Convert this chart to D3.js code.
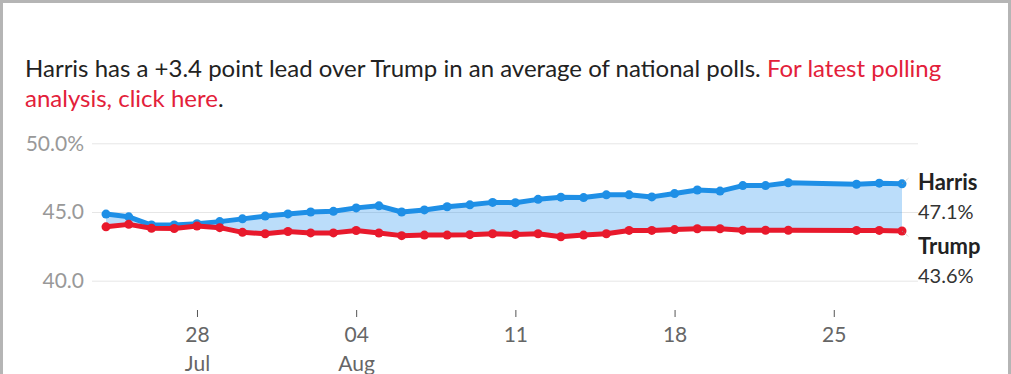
<!DOCTYPE html>
<html>
<head>
<meta charset="utf-8">
<script src="https://cdn.jsdelivr.net/npm/d3@7"></script>
<style>
  body { margin: 0; background: #fff; }
  svg { display: block; font-family: Lato, "Open Sans", sans-serif; }
</style>
</head>
<body>
<div id="chart"></div>
<script>
// poll averages
var dates = ["2024-07-24", "2024-07-25", "2024-07-26", "2024-07-27", "2024-07-28", "2024-07-29",
  "2024-07-30", "2024-07-31", "2024-08-01", "2024-08-02", "2024-08-03", "2024-08-04",
  "2024-08-05", "2024-08-06", "2024-08-07", "2024-08-08", "2024-08-09", "2024-08-10",
  "2024-08-11", "2024-08-12", "2024-08-13", "2024-08-14", "2024-08-15", "2024-08-16",
  "2024-08-17", "2024-08-18", "2024-08-19", "2024-08-20", "2024-08-21", "2024-08-22",
  "2024-08-23", "2024-08-26", "2024-08-27", "2024-08-28"];

var harris = [44.85, 44.65, 44.05, 44.05, 44.15, 44.3, 44.5, 44.7, 44.86, 45.0, 45.05, 45.3,
  45.45, 45.0, 45.15, 45.38, 45.52, 45.7, 45.68, 45.92, 46.08, 46.05, 46.25, 46.25,
  46.1, 46.34, 46.6, 46.52, 46.92, 46.92, 47.13, 47.02, 47.1, 47.05];

var trump = [43.92, 44.1, 43.82, 43.8, 43.98, 43.86, 43.52, 43.42, 43.58, 43.48, 43.48, 43.65,
  43.47, 43.28, 43.32, 43.32, 43.35, 43.42, 43.37, 43.42, 43.2, 43.32, 43.42, 43.66,
  43.66, 43.72, 43.78, 43.78, 43.68, 43.67, 43.67, 43.66, 43.66, 43.62];

var yTicks = [40, 45, 50];
var xTicks = ["2024-07-28", "2024-08-04", "2024-08-11", "2024-08-18", "2024-08-25"];

var candidates = [
  { name: "Harris", label: "47.1%", values: harris, color: "#1e8fe6" },
  { name: "Trump", label: "43.6%", values: trump, color: "#e8192c" }
];

var svgWidth = 1011, svgHeight = 374;
var parseDate = d3.timeParse("%Y-%m-%d");

var svg = d3.select("#chart").append("svg")
  .attr("width", svgWidth)
  .attr("height", svgHeight);

// frame
svg.append("rect")
  .attr("x", 1.5).attr("y", 1.5)
  .attr("width", svgWidth - 3).attr("height", svgHeight)
  .attr("fill", "none")
  .attr("stroke", "#b5b5b5")
  .attr("stroke-width", 3);

// headline
var title = svg.append("text")
  .attr("x", 25)
  .attr("font-size", 24)
  .attr("fill", "#222");
title.append("tspan").attr("x", 25).attr("y", 77)
  .text("Harris has a +3.4 point lead over Trump in an average of national polls. ");
title.append("tspan").attr("fill", "#e3203a").text("For latest polling");
title.append("tspan").attr("x", 25).attr("y", 107).attr("fill", "#e3203a").text("analysis, click here");
title.append("tspan").text(".");

var x = d3.scaleTime()
  .domain([parseDate(dates[0]), parseDate(dates[dates.length - 1])])
  .range([106, 902]);

var y = d3.scaleLinear()
  .domain([40, 50])
  .range([280.7, 143.3]);

// gridlines + y labels
var yAxis = svg.append("g")
  .attr("transform", "translate(92,0)")
  .call(d3.axisLeft(y).tickValues(yTicks).tickSize(-826).tickPadding(8)
    .tickFormat(d => d === 50 ? "50.0%" : d3.format(".1f")(d)));
yAxis.select(".domain").remove();
yAxis.selectAll("line").attr("stroke", "#e6e6e6");
yAxis.selectAll("text")
  .attr("fill", "#999")
  .attr("font-size", 21)
  .attr("font-family", "Lato, sans-serif");

// x axis
var xAxis = svg.append("g")
  .attr("transform", "translate(0,310)")
  .call(d3.axisBottom(x).tickValues(xTicks.map(parseDate)).tickSize(7).tickPadding(10)
    .tickFormat(d3.timeFormat("%d")));
xAxis.select(".domain").remove();
xAxis.selectAll("line").attr("stroke", "#555");
xAxis.selectAll("text")
  .attr("fill", "#666")
  .attr("font-size", 21)
  .attr("font-family", "Lato, sans-serif");
xAxis.selectAll(".tick")
  .filter(d => d.getDate() === 28 || d.getDate() === 4)
  .append("text")
  .attr("fill", "#666")
  .attr("font-size", 21)
  .attr("font-family", "Lato, sans-serif")
  .attr("text-anchor", "middle")
  .attr("y", 46)
  .attr("dy", "0.71em")
  .text(d => d3.timeFormat("%b")(d));

var rows = dates.map(function(d, i) {
  return { date: parseDate(d), harris: harris[i], trump: trump[i] };
});

// shaded gap between the two lines
svg.append("path")
  .datum(rows)
  .attr("fill", "rgba(30,143,240,0.3)")
  .attr("d", d3.area()
    .x(d => x(d.date))
    .y0(d => y(d.trump))
    .y1(d => y(d.harris)));

candidates.forEach(function(c) {
  var pts = dates.map((d, i) => ({ date: parseDate(d), v: c.values[i] }));

  svg.append("path")
    .datum(pts)
    .attr("fill", "none")
    .attr("stroke", c.color)
    .attr("stroke-width", 5)
    .attr("stroke-linejoin", "round")
    .attr("d", d3.line().x(d => x(d.date)).y(d => y(d.v)));

  svg.append("g").selectAll("circle")
    .data(pts)
    .enter()
    .append("circle")
    .attr("cx", d => x(d.date))
    .attr("cy", d => y(d.v))
    .attr("r", 4.5)
    .attr("fill", c.color);
});

// end labels
var last = dates.length - 1;
var labels = [
  { c: candidates[0], ly: 190, dy: -6 },
  { c: candidates[1], ly: 254, dy: 6 }
];
labels.forEach(function(l) {
  var px = x(parseDate(dates[last])), py = y(l.c.values[last]);
  svg.append("line")
    .attr("x1", px).attr("y1", py)
    .attr("x2", px + 7).attr("y2", py + l.dy)
    .attr("stroke", "#999")
    .attr("stroke-dasharray", "1,2");
  svg.append("text")
    .attr("x", 918).attr("y", l.ly)
    .attr("font-size", 22).attr("font-weight", "bold")
    .attr("fill", "#222")
    .text(l.c.name);
  svg.append("text")
    .attr("x", 918).attr("y", l.ly + 29)
    .attr("font-size", 20)
    .attr("fill", "#333")
    .text(l.c.label);
});
</script>
</body>
</html>
